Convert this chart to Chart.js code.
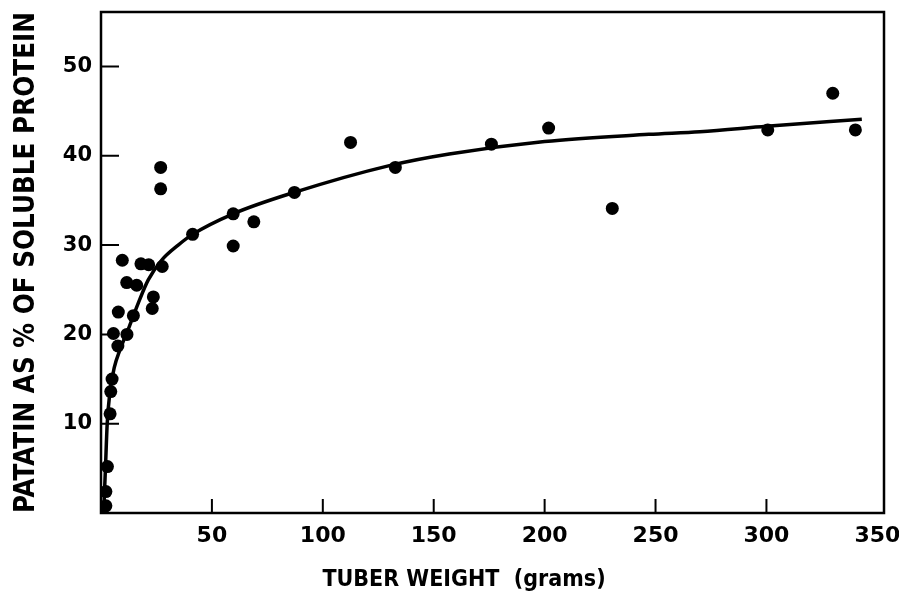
<!DOCTYPE html>
<html>
<head>
<meta charset="utf-8">
<script src="https://cdn.jsdelivr.net/npm/chart.js@4"></script>
<style>
  html, body { margin: 0; padding: 0; background: #fff; }
  #wrap { width: 899px; height: 605px; }
</style>
</head>
<body>
<div id="wrap"><canvas id="myChart" width="899" height="605"></canvas></div>
<script>
// measured points: tuber weight (g) vs patatin (% of soluble protein)
var weight  = [329.9, 340.1, 300.6, 230.5, 201.8, 176.0, 132.7, 112.5, 87.2, 68.9, 59.6, 59.6, 41.3, 26.9, 26.9, 27.6, 23.6, 23.1, 21.5, 18.0, 9.6, 11.6, 16.1, 7.8, 14.6, 5.6, 11.7, 7.6, 5.0, 4.4, 4.1, 2.9, 2.2, 2.2];
var patatin = [47.0, 42.9, 42.9, 34.1, 43.1, 41.3, 38.7, 41.5, 35.9, 32.6, 33.5, 29.9, 31.2, 38.7, 36.3, 27.6, 24.2, 22.9, 27.8, 27.9, 28.3, 25.8, 25.5, 22.5, 22.1, 20.1, 20.0, 18.7, 15.0, 13.6, 11.1, 5.2, 2.4, 0.8];

// fitted curve
var curveWeight  = [1.2, 2.0, 2.8, 4.0, 6.0, 8.6, 12.8, 16.8, 21.3, 27.3, 34.8, 41.3, 59.6, 87.1, 130, 157, 200, 247, 270, 300, 343];
var curvePatatin = [0, 5, 10, 13.5, 16.3, 18.3, 20.9, 23.5, 26.1, 28.3, 30.0, 31.2, 33.5, 35.9, 38.9, 40.2, 41.6, 42.4, 42.7, 43.3, 44.1];

var xTicks = [50, 100, 150, 200, 250, 300, 350];
var yTicks = [10, 20, 30, 40, 50];

var pts = weight.map((w, i) => ({x: w, y: patatin[i]}));
var curve = curveWeight.map((w, i) => ({x: w, y: curvePatatin[i]}));

// box round the plot + short inward tick marks
var frame = {
  id: 'frame',
  afterDraw(chart) {
    var ctx = chart.ctx, a = chart.chartArea;
    var xs = chart.scales.x, ys = chart.scales.y;
    ctx.save();
    ctx.strokeStyle = '#000';
    ctx.lineWidth = 2.5;
    ctx.strokeRect(a.left, a.top, a.right - a.left, a.bottom - a.top);
    ctx.lineWidth = 2;
    ctx.beginPath();
    xTicks.forEach(v => {
      if (v >= 350) return;
      var px = xs.getPixelForValue(v);
      ctx.moveTo(px, a.bottom);
      ctx.lineTo(px, a.bottom - 14);
    });
    yTicks.forEach(v => {
      var py = ys.getPixelForValue(v);
      ctx.moveTo(a.left, py);
      ctx.lineTo(a.left + 18, py);
    });
    ctx.stroke();
    // x axis title
    ctx.fillStyle = '#000';
    ctx.font = 'bold 23px "DejaVu Sans Condensed", "DejaVu Sans", sans-serif';
    ctx.textAlign = 'center';
    ctx.textBaseline = 'middle';
    ctx.fillText('TUBER WEIGHT  (grams)', 464, 580);
    ctx.restore();
  }
};

new Chart('myChart', {
  data: {
    datasets: [{
      type: 'scatter',
      data: pts,
      backgroundColor: '#000',
      borderWidth: 0,
      pointRadius: 6.5,
      pointHoverRadius: 6.5
    }, {
      type: 'line',
      data: curve,
      borderColor: '#000',
      borderWidth: 3.5,
      pointRadius: 0,
      fill: false,
      cubicInterpolationMode: 'monotone'
    }]
  },
  options: {
    responsive: false,
    animation: false,
    devicePixelRatio: 1,
    layout: {padding: {top: 12, right: 15, left: 0, bottom: 0}},
    plugins: {legend: {display: false}, tooltip: {enabled: false}},
    scales: {
      x: {
        type: 'linear',
        min: 0, max: 353,
        afterFit: s => { s.height = 92; s.paddingLeft = 0; s.paddingRight = 0; },
        afterBuildTicks: s => { s.ticks = xTicks.map(v => ({value: v})); },
        grid: {display: false, drawTicks: false},
        border: {display: false},
        ticks: {color: '#000', padding: 10, maxRotation: 0, autoSkip: false,
                font: {family: '"DejaVu Sans"', size: 22, weight: 'bold'}}
      },
      y: {
        type: 'linear',
        min: 0, max: 56.1,
        afterFit: s => { s.width = 101; s.paddingTop = 0; s.paddingBottom = 0; },
        afterBuildTicks: s => { s.ticks = yTicks.map(v => ({value: v})); },
        grid: {display: false, drawTicks: false},
        border: {display: false},
        ticks: {color: '#000', padding: 9,
                font: {family: '"DejaVu Sans"', size: 21, weight: 'bold'}},
        title: {
          display: true,
          text: 'PATATIN AS % OF SOLUBLE PROTEIN',
          color: '#000',
          padding: {top: 10, bottom: 0},
          font: {family: '"DejaVu Sans Condensed", "DejaVu Sans"', size: 27.5, weight: 'bold'}
        }
      }
    }
  },
  plugins: [frame]
});
</script>
</body>
</html>
